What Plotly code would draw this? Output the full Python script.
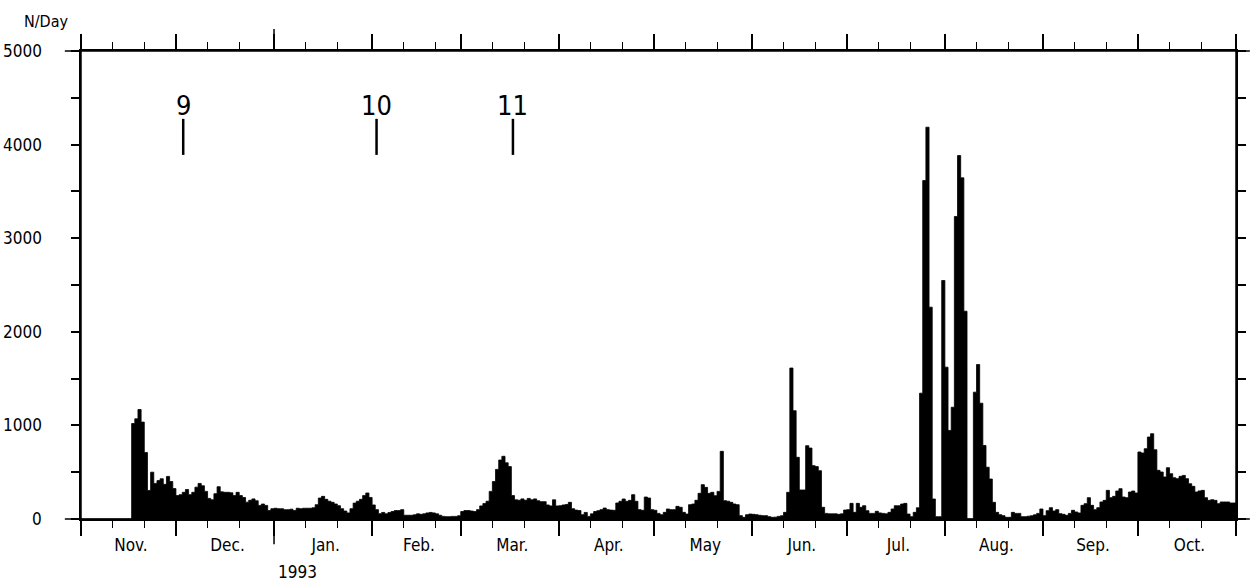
import numpy as np
import plotly.graph_objects as go

# ---------------- data (daily counts, Nov 1992 - Oct 1993) ----------------
month_names = ["Nov.", "Dec.", "Jan.", "Feb.", "Mar.", "Apr.", "May", "Jun.", "Jul.", "Aug.", "Sep.", "Oct."]
month_days = [30, 31, 31, 28, 31, 30, 31, 30, 31, 31, 30, 31]

nov = [0, 0, 0, 0, 0, 0, 0, 0, 0, 0, 0, 0, 0, 0, 0, 0,
       1020, 1070, 1170, 1035, 710, 305, 500, 380, 410, 430, 370, 455, 400, 325]
dec = [250, 260, 285, 315, 260, 285, 340, 380, 355, 295, 220, 205, 270, 345, 290, 285,
       285, 280, 250, 285, 250, 230, 180, 200, 215, 195, 145, 160, 145, 90, 110]
jan = [115, 110, 110, 100, 100, 105, 90, 115, 110, 115, 115, 115, 120, 153, 224, 242,
       210, 190, 178, 160, 142, 110, 85, 65, 110, 170, 190, 210, 250, 278, 230]
feb = [150, 100, 57, 70, 55, 70, 80, 90, 90, 100, 40, 40, 40, 45, 55, 50, 55, 65, 70, 65,
       55, 40, 28, 25, 25, 28, 28, 35]
mar = [80, 90, 90, 85, 80, 100, 140, 165, 190, 295, 400, 530, 630, 670, 600, 560, 250,
       205, 200, 215, 200, 220, 205, 215, 195, 185, 185, 150, 140, 205, 140]
apr = [142, 150, 155, 178, 110, 95, 90, 46, 70, 28, 55, 80, 89, 100, 117, 100, 95, 93,
       171, 189, 214, 189, 199, 260, 189, 100, 93, 235, 224, 100]
may = [93, 60, 46, 71, 107, 100, 100, 135, 125, 71, 53, 153, 160, 200, 274, 367, 338,
       274, 285, 249, 295, 723, 196, 190, 178, 160, 153, 36, 18, 46, 53]
jun = [50, 46, 40, 36, 36, 25, 18, 20, 28, 35, 71, 285, 1613, 1157, 659, 310, 310, 783,
       758, 570, 560, 516, 125, 60, 55, 55, 55, 50, 55, 96]
jul = [100, 167, 71, 167, 125, 142, 89, 60, 60, 82, 65, 60, 55, 71, 107, 142, 142, 160,
       167, 53, 25, 71, 120, 1344, 3616, 4186, 2263, 214, 25, 25, 2548]
aug = [1622, 946, 1194, 3232, 3883, 3645, 2220, 0, 0, 1355, 1650, 1237, 785, 553, 427,
       178, 71, 46, 36, 18, 18, 71, 60, 60, 25, 25, 30, 35, 45, 60, 107]
sep = [36, 89, 121, 85, 100, 57, 50, 39, 60, 93, 75, 64, 146, 164, 228, 146, 100, 121,
       182, 199, 306, 228, 242, 299, 324, 235, 228, 288, 299, 278]
octo = [716, 705, 751, 876, 911, 740, 520, 502, 449, 548, 484, 441, 431, 456, 466, 431,
        377, 349, 288, 300, 306, 228, 199, 206, 199, 164, 182, 182, 182, 171, 171]

event_names = ["9", "10", "11"]
event_days = [32.3, 93.4, 136.5]   # day index (0 = 1 Nov 1992)

y_ticks = [0, 1000, 2000, 3000, 4000, 5000]
y_minor = [500, 1500, 2500, 3500, 4500]

# ---------------- derived ----------------
values = nov + dec + jan + feb + mar + apr + may + jun + jul + aug + sep + octo
n = len(values)
step_x = np.arange(n + 1)               # day boundaries
step_y = values + [values[-1]]          # hold last value to the end of its day
month_starts = [int(v) for v in np.cumsum([0] + month_days)]
minor_vals = [s + k for s in month_starts[:-1] for k in (10, 20)]
label_pos = [month_starts[i] + month_days[i] / 2 + 0.8 for i in range(12)]
jan1 = month_starts[2]
total_days = month_starts[-1]

FONT = "DejaVu Sans Condensed, Liberation Sans Narrow, sans-serif"

fig = go.Figure()
fig.add_trace(go.Scatter(
    x=step_x, y=step_y, mode="lines", line_shape="hv",
    line=dict(color="black", width=0.8), fill="tozeroy", fillcolor="black",
    showlegend=False, hoverinfo="skip"))
# invisible trace to keep the label axis alive
fig.add_trace(go.Scatter(x=[None], y=[None], xaxis="x2", yaxis="y",
                         showlegend=False, hoverinfo="skip"))

fig.update_layout(
    width=1254, height=584,
    margin=dict(l=81, r=18, t=51, b=65),
    paper_bgcolor="white", plot_bgcolor="white",
    font=dict(family=FONT, size=17, color="black"),
    xaxis=dict(
        range=[0, total_days], tickmode="array", tickvals=month_starts,
        ticks="outside", ticklen=15, tickwidth=1.5, tickcolor="black",
        showticklabels=False, showline=True, linecolor="black", linewidth=1.5,
        mirror="ticks", showgrid=False, zeroline=False, automargin=False,
        minor=dict(tickmode="array", tickvals=minor_vals, ticks="outside",
                   ticklen=7, tickwidth=1.3, tickcolor="black", showgrid=False),
    ),
    xaxis2=dict(
        overlaying="x", side="bottom", anchor="y", range=[0, total_days],
        tickmode="array", tickvals=label_pos, ticktext=month_names,
        ticks="outside", ticklen=11, tickcolor="rgba(0,0,0,0)",
        showline=False, showgrid=False, zeroline=False, automargin=False,
        tickfont=dict(family=FONT, size=17, color="black"),
    ),
    yaxis=dict(
        range=[0, 5000], tickmode="array", tickvals=y_ticks,
        ticks="outside", ticklen=8, tickwidth=1.5, tickcolor="black",
        showline=True, linecolor="black", linewidth=1.5, mirror="ticks",
        showgrid=False, zeroline=False, showticklabels=False, automargin=False,
        minor=dict(tickmode="array", tickvals=y_minor, ticks="outside",
                   ticklen=8, tickwidth=1.5, tickcolor="black", showgrid=False),
    ),
)

shapes = []
line = dict(color="black", width=1.5)
# extended frame lines
shapes.append(dict(type="line", xref="paper", yref="paper", x0=-0.014, x1=1.012, y0=0, y1=0, line=line))
shapes.append(dict(type="line", xref="paper", yref="paper", x0=-0.014, x1=1.012, y0=1, y1=1, line=line))
shapes.append(dict(type="line", xref="paper", yref="paper", x0=0, x1=0, y0=-0.03, y1=1.028, line=line))
shapes.append(dict(type="line", xref="paper", yref="paper", x0=1, x1=1, y0=-0.02, y1=1.015, line=line))
# long year ticks at 1 Jan
shapes.append(dict(type="line", xref="x", yref="paper", x0=jan1, x1=jan1, y0=0, y1=-0.054, line=line))
shapes.append(dict(type="line", xref="x", yref="paper", x0=jan1, x1=jan1, y0=1, y1=1.047, line=line))
# event markers
for d in event_days:
    shapes.append(dict(type="line", xref="x", yref="y", x0=d, x1=d, y0=3890, y1=4275,
                       line=dict(color="black", width=2.5)))
fig.update_layout(shapes=shapes)

plot_w, plot_h = 1155, 468
# y tick labels (right-aligned well left of the axis, as in the original)
for v in y_ticks:
    fig.add_annotation(x=(44 - 81) / plot_w, y=v, xref="paper", yref="y", text=str(v),
                       showarrow=False, xanchor="right", yanchor="middle",
                       font=dict(family=FONT, size=17, color="black"))
for name, d in zip(event_names, event_days):
    fig.add_annotation(x=d, y=4275, xref="x", yref="y", text=name, showarrow=False,
                       yanchor="bottom", yshift=-4,
                       font=dict(family=FONT, size=27, color="black"))
fig.add_annotation(x=(46 - 81) / plot_w, y=(519 - 21) / plot_h, xref="paper", yref="paper",
                   text="N/Day", showarrow=False, xanchor="center", yanchor="middle",
                   font=dict(family=FONT, size=16, color="black"))
fig.add_annotation(x=jan1 + 7.3, y=-(572 - 519) / plot_h, xref="x", yref="paper",
                   text="1993", showarrow=False, xanchor="center", yanchor="middle",
                   font=dict(family=FONT, size=17, color="black"))

fig.write_html("out.html", config={"displayModeBar": False},
               post_script="document.body.style.margin='0';document.body.style.padding='0';")
